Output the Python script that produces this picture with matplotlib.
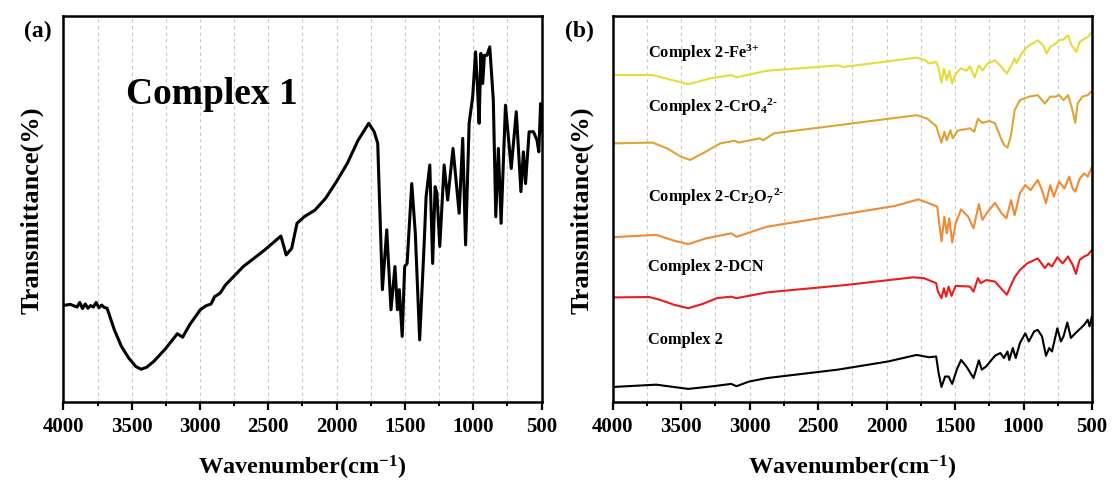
import matplotlib

matplotlib.use("Agg")
import matplotlib.pyplot as plt
from matplotlib.ticker import MultipleLocator

plt.rcParams["font.family"] = "serif"
plt.rcParams["font.serif"] = ["Liberation Serif", "DejaVu Serif"]
plt.rcParams["font.weight"] = "bold"
plt.rcParams["mathtext.fontset"] = "custom"
plt.rcParams["mathtext.rm"] = "Liberation Serif:bold"
plt.rcParams["mathtext.bf"] = "Liberation Serif:bold"
plt.rcParams["mathtext.default"] = "bf"

# Complex 1 FT-IR spectrum (transmittance, arbitrary scale)
WN_1 = [4000, 3950, 3900, 3880, 3860, 3840, 3820, 3800, 3780, 3760, 3740, 3720,
        3700, 3680, 3627, 3575, 3522, 3470, 3431, 3391, 3339, 3260, 3181, 3166,
        3127, 3076, 2998, 2958, 2919, 2893, 2853, 2814, 2683, 2526, 2408, 2369,
        2329, 2290, 2237, 2159, 2080, 2001, 1922, 1843, 1765, 1725, 1699, 1686,
        1665, 1633, 1602, 1573, 1555, 1541, 1520, 1502, 1484, 1450, 1424, 1392,
        1358, 1345, 1318, 1297, 1279, 1266, 1245, 1213, 1187, 1148, 1103, 1077,
        1056, 1030, 1004, 983, 970, 957, 944, 931, 918, 900, 879, 853, 835, 816,
        796, 764, 722, 685, 651, 633, 617, 591, 559, 533, 520, 507, 500]
T_1 = [25.0, 25.3, 24.6, 25.8, 24.2, 25.4, 24.3, 25.0, 24.6, 25.8, 24.4, 25.1,
       24.5, 24.3, 18.7, 14.4, 11.4, 9.2, 8.5, 9.0, 10.5, 13.5, 17.0, 17.7,
       16.8, 20.0, 23.9, 24.9, 25.4, 27.3, 28.2, 30.3, 35.1, 39.4, 43.0, 38.1,
       39.8, 46.3, 48.0, 49.7, 52.8, 57.1, 61.8, 67.8, 72.2, 70.0, 67.0, 52.3,
       29.1, 44.6, 23.9, 35.1, 23.9, 29.1, 17.0, 35.1, 35.9, 56.6, 43.7, 16.1,
       42.0, 53.2, 61.4, 35.9, 55.8, 54.1, 40.3, 61.4, 52.3, 65.7, 48.9, 68.3,
       40.7, 72.2, 79.1, 90.7, 82.5, 72.2, 90.3, 82.5, 89.8, 89.8, 92.0, 78.2,
       48.0, 65.7, 46.3, 76.9, 60.5, 75.2, 54.5, 64.8, 56.6, 70.0, 70.0, 67.8,
       64.8, 77.3, 70.0]

# Complex 2 and its analyte-loaded samples, stacked spectra
WN_C2 = [4000, 3682, 3448, 3266, 3135, 3096, 3005, 2875, 2354, 1990, 1781, 1690,
         1638, 1620, 1599, 1573, 1547, 1521, 1487, 1456, 1417, 1365, 1326, 1305,
         1273, 1234, 1208, 1169, 1143, 1117, 1104, 1078, 1057, 1026, 987, 961,
         922, 896, 865, 836, 812, 792, 753, 727, 708, 680, 654, 622, 583, 557,
         531, 518, 500]
T_C2 = [3.9, 4.5, 3.4, 4.1, 4.7, 4.1, 5.3, 6.2, 8.4, 10.5, 12.2, 11.6, 11.8,
        7.5, 3.9, 6.6, 6.6, 4.7, 8.4, 10.9, 9.2, 6.2, 10.8, 8.4, 9.2, 10.9, 12.0,
        12.7, 11.4, 13.1, 10.9, 14.0, 11.4, 15.3, 17.8, 15.7, 18.3, 18.7, 17.0,
        12.0, 14.0, 13.1, 19.1, 15.7, 17.0, 20.6, 16.6, 17.8, 19.1, 20.0, 21.3,
        19.6, 22.2]

WN_DCN = [4000, 3734, 3656, 3552, 3448, 3344, 3240, 3135, 3096, 2875, 2302,
          1807, 1729, 1638, 1625, 1599, 1581, 1565, 1547, 1526, 1495, 1391,
          1365, 1333, 1312, 1273, 1208, 1156, 1122, 1091, 1065, 1026, 974, 896,
          844, 818, 792, 753, 714, 675, 641, 617, 591, 557, 531, 500]
T_DCN = [27.1, 27.2, 26.5, 25.2, 24.3, 25.4, 26.9, 27.3, 26.9, 28.4, 30.3,
         32.3, 32.1, 30.8, 28.6, 26.9, 29.5, 27.3, 29.9, 27.5, 30.1, 29.9, 28.6,
         32.1, 30.8, 31.6, 31.2, 29.1, 27.8, 30.3, 32.3, 34.2, 35.9, 37.2, 34.7,
         35.9, 35.1, 37.5, 35.9, 37.7, 35.5, 33.2, 36.8, 37.7, 38.1, 39.4]

WN_CR2O7 = [4000, 3682, 3552, 3448, 3318, 3135, 3096, 2875, 2354, 1938, 1768,
            1677, 1630, 1599, 1578, 1560, 1542, 1521, 1495, 1456, 1404, 1365,
            1326, 1300, 1261, 1208, 1161, 1125, 1091, 1065, 1026, 987, 948, 896,
            865, 836, 805, 779, 740, 701, 667, 641, 622, 589, 557, 531, 500]
T_CR2O7 = [42.7, 43.3, 41.8, 40.9, 42.4, 43.7, 42.8, 45.4, 48.4, 50.8, 52.5,
           51.3, 50.6, 41.6, 48.0, 43.7, 47.6, 41.3, 46.3, 49.9, 48.0, 45.0,
           51.3, 47.2, 49.3, 51.6, 48.9, 47.6, 52.3, 48.4, 54.1, 56.2, 54.9,
           57.5, 54.9, 51.5, 56.2, 53.2, 57.1, 55.3, 58.4, 55.3, 54.5, 57.9,
           59.2, 58.4, 60.9]

WN_CRO4 = [4000, 3708, 3604, 3500, 3435, 3344, 3214, 3109, 3083, 2927, 2901,
           2823, 2354, 1781, 1703, 1638, 1599, 1578, 1560, 1534, 1516, 1482,
           1391, 1360, 1333, 1300, 1248, 1208, 1169, 1143, 1117, 1091, 1065,
           1026, 961, 896, 844, 805, 766, 740, 708, 675, 649, 622, 605, 570, 531,
           500]
T_CRO4 = [67.0, 67.2, 65.7, 63.5, 62.7, 64.4, 67.0, 67.7, 67.2, 68.3, 67.8,
          69.6, 71.7, 74.3, 73.4, 71.5, 67.2, 70.0, 67.8, 70.4, 68.3, 70.3, 70.9,
          70.0, 73.4, 72.3, 72.8, 72.2, 68.7, 66.6, 65.9, 69.1, 75.6, 78.2, 79.1,
          79.5, 77.3, 79.1, 79.1, 79.5, 78.2, 79.5, 76.5, 72.3, 77.3, 79.1, 79.5,
          80.6]

WN_FE = [4000, 3708, 3578, 3448, 3292, 3135, 3096, 2875, 2354, 2315, 1781, 1716,
         1690, 1638, 1620, 1599, 1581, 1560, 1542, 1521, 1495, 1456, 1417, 1391,
         1357, 1326, 1300, 1261, 1208, 1161, 1122, 1091, 1065, 1052, 1013, 974,
         896, 857, 831, 805, 766, 740, 708, 675, 649, 615, 589, 557, 531, 500]
T_FE = [84.7, 84.7, 83.5, 82.3, 83.8, 84.7, 84.1, 85.8, 87.2, 86.8, 89.2, 88.5,
        87.7, 88.1, 86.4, 82.7, 86.4, 83.4, 85.8, 82.5, 85.1, 86.4, 85.8, 87.0,
        84.1, 87.2, 85.9, 87.7, 88.5, 86.8, 85.1, 87.0, 89.0, 87.8, 90.3, 92.0,
        93.7, 92.4, 90.3, 92.0, 92.8, 93.7, 93.9, 95.0, 92.4, 90.7, 93.3, 94.1,
        94.5, 95.9]

SERIES_B = [
    (WN_C2, T_C2, "#000000", "Complex 2", 16.3),
    (WN_DCN, T_DCN, "#ec1c1c", "Complex 2-DCN", 35.3),
    (WN_CR2O7, T_CR2O7, "#f28a35", r"Complex 2-Cr$_2$O$_7$$^{\text{2-}}$", 53.4),
    (WN_CRO4, T_CRO4, "#dea435", r"Complex 2-CrO$_4$$^{\text{2-}}$", 76.5),
    (WN_FE, T_FE, "#e3dc3a", r"Complex 2-Fe$^{\text{3+}}$", 90.7),
]


def style_axes(ax):
    ax.set_xlim(4000, 500)
    ax.set_ylim(0, 100)
    ax.xaxis.set_major_locator(MultipleLocator(500))
    ax.xaxis.set_minor_locator(MultipleLocator(250))
    ax.set_yticks([])
    ax.grid(axis="x", which="both", color="#c8c8c8", linestyle=(0, (3, 3)),
            linewidth=0.8)
    ax.tick_params(axis="x", which="major", direction="out", length=6, width=1.6,
                   labelsize=15, pad=4)
    ax.tick_params(axis="x", which="minor", direction="out", length=3, width=1.4)
    for spine in ax.spines.values():
        spine.set_linewidth(1.8)
    ax.set_ylabel("Transmittance(%)", fontsize=19, fontweight="bold", labelpad=14)


fig = plt.figure(figsize=(11.12, 4.85), dpi=100)
ax_a = fig.add_axes([0.057, 0.169, 0.430, 0.796])
ax_b = fig.add_axes([0.551, 0.169, 0.431, 0.796])

style_axes(ax_a)
ax_a.plot(WN_1, T_1, color="black", linewidth=2.2)
ax_a.text(3540, 80, "Complex 1", fontsize=27, fontweight="bold", va="center")
ax_a.set_xlabel("Wavenumber(cm$^{-1}$)", fontsize=17.5, fontweight="bold",
                labelpad=12)
fig.text(0.022, 0.935, "(a)", fontsize=17, fontweight="bold", va="center")

style_axes(ax_b)
for wn, t, color, label, label_y in SERIES_B:
    ax_b.plot(wn, t, color=color, linewidth=1.5)
    ax_b.text(3740, label_y, label, fontsize=11.8, fontweight="bold",
              va="center")
ax_b.set_xlabel("Wavenumber(cm$^{-1}$)", fontsize=17.5, fontweight="bold",
                labelpad=12)
fig.text(0.508, 0.935, "(b)", fontsize=17, fontweight="bold", va="center")

fig.savefig("out.png", dpi=100)
